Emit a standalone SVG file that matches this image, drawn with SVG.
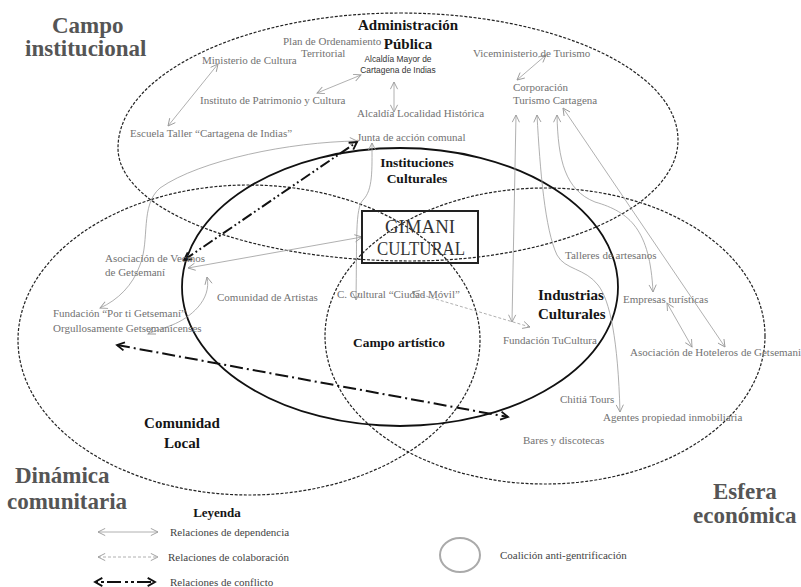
<svg xmlns="http://www.w3.org/2000/svg" width="801" height="587" viewBox="0 0 801 587">
<style>
.t{font-family:"Liberation Serif",serif;font-size:11px;fill:#727272}
.s{font-family:"Liberation Sans",sans-serif;font-size:8.4px;fill:#333}
.b{font-family:"Liberation Serif",serif;font-weight:bold;fill:#151515}
.big{font-family:"Liberation Serif",serif;font-weight:bold;font-size:23px;fill:#555}
.lg{font-family:"Liberation Serif",serif;font-size:11px;fill:#444}
.dsh{fill:none;stroke:#222;stroke-width:1.2;stroke-dasharray:3 1.6}
.sol{fill:none;stroke:#111;stroke-width:1.8}
.dep{fill:none;stroke:#9c9c9c;stroke-width:0.8;marker-start:url(#ga);marker-end:url(#ga)}
.col{fill:none;stroke:#9c9c9c;stroke-width:0.8;stroke-dasharray:3 2;marker-start:url(#ga);marker-end:url(#ga)}
.con{fill:none;stroke:#111;stroke-width:2;marker-start:url(#ca);marker-end:url(#ca)}
</style>
<defs>
<marker id="ga" viewBox="0 0 10 10" refX="9" refY="5" markerWidth="9" markerHeight="9" markerUnits="userSpaceOnUse" orient="auto-start-reverse"><path d="M1,1 L9,5 L1,9" fill="none" stroke="#999" stroke-width="1" stroke-dasharray="none"/></marker>
<marker id="ca" viewBox="0 0 12 12" refX="10" refY="6" markerWidth="11" markerHeight="11" markerUnits="userSpaceOnUse" orient="auto-start-reverse"><path d="M2,1.5 L10,6 L2,10.5" fill="none" stroke="#111" stroke-width="2" stroke-dasharray="none"/></marker>
</defs>
<rect width="801" height="587" fill="#fff"/>

<g id="fields">
<path id="campo-institucional" class="dsh" d="M400,13 C553,13 678,70 678,140 C678,207 557,261 410,261 C249,261 118,210 118,148 C118,74 245,13 400,13 Z"/>
<ellipse id="dinamica-comunitaria" class="dsh" cx="249" cy="340" rx="231" ry="155"/>
<ellipse id="esfera-economica" class="dsh" cx="545" cy="336" rx="220" ry="148"/>
<ellipse id="instituciones-culturales" class="sol" cx="400" cy="287" rx="218" ry="139"/>
</g>

<g id="titles">
<text class="big" x="52" y="33">Campo</text>
<text class="big" x="25" y="56">institucional</text>
<text class="big" x="15" y="483">Dinámica</text>
<text class="big" x="7" y="509">comunitaria</text>
<text class="big" x="713" y="499">Esfera</text>
<text class="big" x="693" y="523">económica</text>
</g>

<g id="labels">
<text class="b" x="408" y="30" font-size="15" text-anchor="middle">Administración</text>
<text class="b" x="408" y="49" font-size="15" text-anchor="middle">Pública</text>
<text class="b" x="417" y="167" font-size="13.5" text-anchor="middle">Instituciones</text>
<text class="b" x="417" y="183" font-size="13.5" text-anchor="middle">Culturales</text>
<text class="b" x="538" y="300" font-size="15">Industrias</text>
<text class="b" x="538" y="319" font-size="15">Culturales</text>
<text class="b" x="399" y="347" font-size="13.4" text-anchor="middle">Campo artístico</text>
<text class="b" x="182" y="428" font-size="15" text-anchor="middle">Comunidad</text>
<text class="b" x="182" y="448" font-size="15" text-anchor="middle">Local</text>
</g>

<g id="connectors">
<line class="dep" x1="218" y1="64" x2="168" y2="126"/>
<line class="dep" x1="361" y1="75" x2="317" y2="93"/>
<line class="dep" x1="394" y1="82" x2="394" y2="112"/>
<line class="dep" x1="546" y1="55" x2="517" y2="80"/>
<line class="dep" x1="516" y1="115" x2="512" y2="322"/>
<path class="dep" d="M537,115 C540,170 545,230 557,255 C565,270 585,268 598,285 C610,300 618,340 620,412"/>
<path class="dep" d="M557,115 C558,160 565,190 595,202 C630,212 650,230 653,292"/>
<line class="dep" x1="563" y1="108" x2="725" y2="347"/>
<line class="dep" x1="667" y1="303" x2="692" y2="347"/>
<path class="dep" d="M372,143 C372,170 373,190 363,200 C355,208 357,240 356,300"/>
<path class="dep" d="M357,141 C290,142 200,160 160,188 C140,205 150,240 140,265 C133,285 118,300 100,308"/>
<line class="dep" x1="362" y1="237" x2="188" y2="268"/>
<path class="dep" d="M207,277 C212,300 190,318 172,325 C162,329 154,331 148,334"/>
<line class="col" x1="412" y1="292" x2="530" y2="327"/>
<line class="con" x1="184" y1="260" x2="357" y2="142" stroke-dasharray="11 3 1.8 3 1.8 3"/>
<line class="con" x1="117" y1="345" x2="508" y2="417" stroke-dasharray="13 4 2 4"/>
</g>

<g id="gimani">
<rect x="362" y="211" width="116" height="52" fill="none" stroke="#222" stroke-width="2"/>
<text x="420" y="233" text-anchor="middle" font-family="Liberation Serif, serif" font-size="19" fill="#333" textLength="70" lengthAdjust="spacingAndGlyphs">GIMANI</text>
<text x="421" y="255" text-anchor="middle" font-family="Liberation Serif, serif" font-size="19" fill="#333" textLength="88" lengthAdjust="spacingAndGlyphs">CULTURAL</text>
</g>

<g id="ministerio-cultura"><text class="t" x="202" y="64">Ministerio de Cultura</text></g>
<g id="plan-ordenamiento"><text class="t" x="283" y="45">Plan de Ordenamiento</text><text class="t" x="301" y="57">Territorial</text></g>
<g id="alcaldia-mayor"><text class="s" x="398" y="62" text-anchor="middle">Alcaldía Mayor de</text><text class="s" x="398" y="73" text-anchor="middle">Cartagena de Indias</text></g>
<g id="viceministerio"><text class="t" x="473" y="57">Viceministerio de Turismo</text></g>
<g id="corporacion"><text class="t" x="513" y="91">Corporación</text><text class="t" x="513" y="104">Turismo Cartagena</text></g>
<g id="instituto"><text class="t" x="200" y="104">Instituto de Patrimonio y Cultura</text></g>
<g id="alcaldia-localidad"><text class="t" x="357" y="117">Alcaldía Localidad Histórica</text></g>
<g id="escuela-taller"><text class="t" x="130" y="137">Escuela Taller “Cartagena de Indias”</text></g>
<g id="junta"><text class="t" x="357" y="141">Junta de acción comunal</text></g>
<g id="asociacion-vecinos"><text class="t" x="105" y="262">Asociación de Vecinos</text><text class="t" x="105" y="276">de Getsemaní</text></g>
<g id="comunidad-artistas"><text class="t" x="217" y="301">Comunidad de Artistas</text></g>
<g id="fundacion-por-ti"><text class="t" x="53" y="317">Fundación “Por ti Getsemaní”</text><text class="t" x="53" y="332">Orgullosamente Getsemanicenses</text></g>
<g id="ciudad-movil"><text class="t" x="337" y="298">C. Cultural “Ciudad Móvil”</text></g>
<g id="talleres"><text class="t" x="565" y="259">Talleres de artesanos</text></g>
<g id="empresas"><text class="t" x="623" y="303">Empresas turísticas</text></g>
<g id="tucultura"><text class="t" x="503" y="344">Fundación TuCultura</text></g>
<g id="hoteleros"><text class="t" x="630" y="356">Asociación de Hoteleros de Getsemani</text></g>
<g id="chitia"><text class="t" x="560" y="403">Chitiá Tours</text></g>
<g id="agentes"><text class="t" x="603" y="421">Agentes propiedad inmobiliaria</text></g>
<g id="bares"><text class="t" x="523" y="444">Bares y discotecas</text></g>

<g id="legend">
<text class="b" x="217" y="517" font-size="13" text-anchor="middle">Leyenda</text>
<line class="dep" x1="98" y1="532" x2="158" y2="532"/>
<text class="lg" x="170" y="536">Relaciones de dependencia</text>
<line class="col" x1="98" y1="557" x2="158" y2="557"/>
<text class="lg" x="168" y="561">Relaciones de colaboración</text>
<line class="con" x1="95" y1="582" x2="155" y2="582" stroke-dasharray="3 3 3 3 14 4"/>
<text class="lg" x="170" y="586">Relaciones de conflicto</text>
<ellipse cx="460" cy="555" rx="20" ry="17" fill="none" stroke="#aaa" stroke-width="2"/>
<text class="lg" x="500" y="559">Coalición anti-gentrificación</text>
</g>
</svg>
